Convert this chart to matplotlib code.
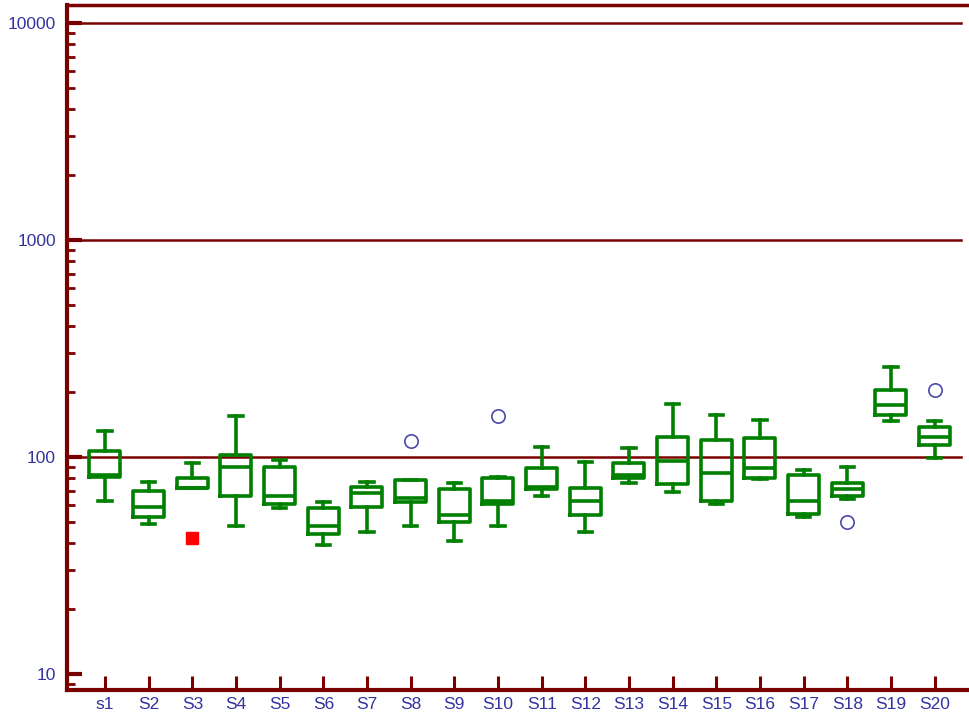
import numpy as np
import matplotlib
matplotlib.use("Agg")
import matplotlib.pyplot as plt
from matplotlib.ticker import LogLocator, FixedLocator, NullFormatter, FuncFormatter

# Sample labels and five-number summaries per sample
labels = ['s1', 'S2', 'S3', 'S4', 'S5', 'S6', 'S7', 'S8', 'S9', 'S10',
          'S11', 'S12', 'S13', 'S14', 'S15', 'S16', 'S17', 'S18', 'S19', 'S20']
whis_lo = [63, 49, 72, 48, 58, 39.5, 45, 48, 41, 48, 66, 45, 76, 69, 61, 79, 53, 64, 146, 99]
q1 = [81, 53, 72, 66, 61, 44, 59, 62, 50, 61, 71, 54, 80, 75, 63, 80, 54.5, 66, 156, 114]
med = [83, 59, 72, 90, 66, 48, 68, 65, 54, 63, 73, 63, 83, 96, 84, 89, 63, 71, 174, 123]
q3 = [107, 70, 80, 102, 90, 58, 73, 78, 71, 80, 89, 72, 94, 123, 120, 122, 83, 76, 204, 138]
whis_hi = [132, 77, 94, 155, 97, 62, 77, 78, 76, 81, 111, 95, 110, 176, 156, 148, 87, 90, 259, 146]

# outliers (circles) and far outliers (red squares)
outliers = {'S8': [118], 'S10': [154], 'S18': [50], 'S20': [204]}
far_outliers = {'S3': [42.5]}

GREEN = '#008000'
MAROON = '#7a0000'
TEXT = '#3333a0'

plt.rcParams['font.family'] = ['Liberation Sans', 'DejaVu Sans']

fig = plt.figure(figsize=(9.7, 7.18), dpi=100)
ax = fig.add_axes([67 / 970, 28 / 718, 1 - 67 / 970, (690 - 5) / 718])

positions = np.arange(1, len(labels) + 1)
stats = []
for i, name in enumerate(labels):
    stats.append({'label': name, 'whislo': whis_lo[i], 'q1': q1[i], 'med': med[i],
                  'q3': q3[i], 'whishi': whis_hi[i], 'fliers': outliers.get(name, [])})

# horizontal reference lines at the decades
for y in [100, 1000, 10000]:
    ax.axhline(y, xmin=0, xmax=0.99, color=MAROON, lw=1.8, zorder=1)

line_kw = dict(color=GREEN, linewidth=2.6)
ax.bxp(stats, positions=positions, widths=0.71, capwidths=0.3,
       boxprops=line_kw, whiskerprops=line_kw, capprops=line_kw,
       medianprops=line_kw,
       flierprops=dict(marker='o', markerfacecolor='none', markeredgecolor='#4a4aaa',
                       markersize=9.6, markeredgewidth=1.2),
       manage_ticks=False, zorder=3)

for name, vals in far_outliers.items():
    xpos = labels.index(name) + 1
    ax.plot([xpos] * len(vals), vals, linestyle='none', marker='s', color='#ff0000',
            markersize=8.6, zorder=4)

ax.set_yscale('log')
ax.set_ylim(8.44, 12100)
ax.set_xlim(0.13, 20.81)

ax.yaxis.set_major_locator(FixedLocator([10, 100, 1000, 10000]))
ax.yaxis.set_major_formatter(FuncFormatter(lambda v, p: f'{int(round(v))}'))
ax.yaxis.set_minor_locator(LogLocator(base=10, subs=np.arange(2, 10)))
ax.yaxis.set_minor_formatter(NullFormatter())

ax.set_xticks(positions)
ax.set_xticklabels(labels)

ax.tick_params(axis='y', which='major', direction='in', length=11, width=3,
               color=MAROON, labelcolor=TEXT, labelsize=12.5, pad=8)
ax.tick_params(axis='y', which='minor', direction='in', length=6, width=2, color=MAROON)
ax.tick_params(axis='x', which='major', direction='in', length=10, width=2.2,
               color=MAROON, labelcolor=TEXT, labelsize=12.5, pad=5)

for side in ['left', 'bottom']:
    ax.spines[side].set_color(MAROON)
    ax.spines[side].set_linewidth(3)
ax.spines['top'].set_color(MAROON)
ax.spines['top'].set_linewidth(2.5)
ax.spines['right'].set_visible(False)

fig.savefig('out.png', dpi=100)
